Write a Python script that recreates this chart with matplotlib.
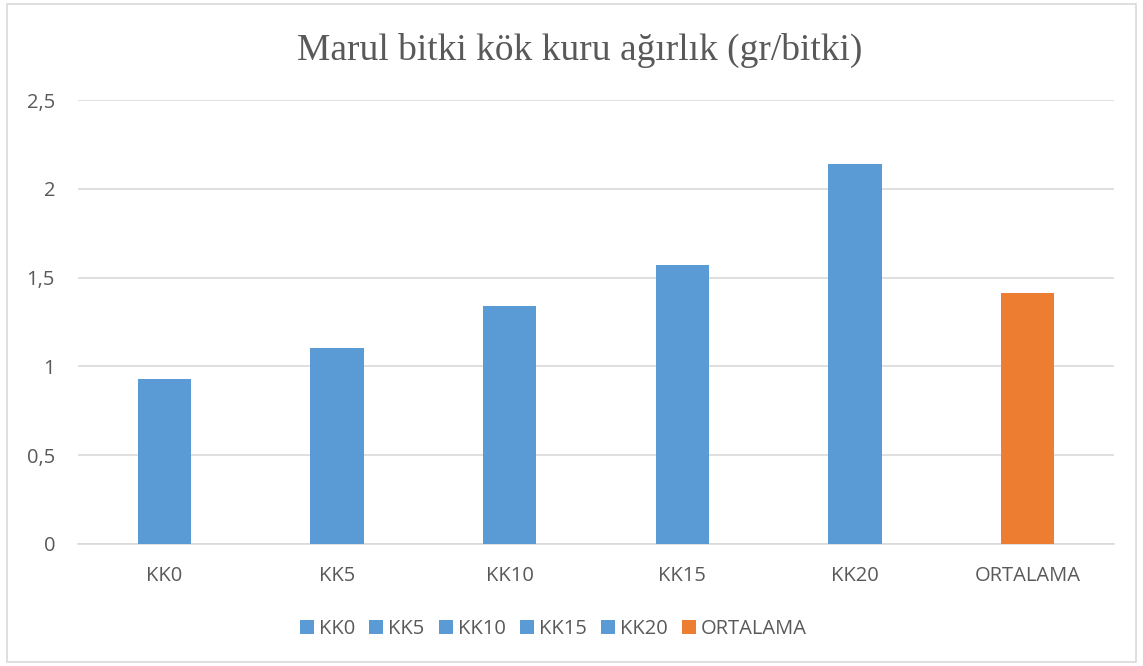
import matplotlib
matplotlib.use("Agg")
import matplotlib.pyplot as plt
from matplotlib.patches import Patch, Rectangle

# Data
categories = ["KK0", "KK5", "KK10", "KK15", "KK20", "ORTALAMA"]
values = [0.93, 1.105, 1.342, 1.573, 2.14, 1.415]
colors = ["#5B9BD5"] * 5 + ["#ED7D31"]

text_color = "#595959"
grid_color = "#D9D9D9"

fig = plt.figure(figsize=(11.43, 6.66), dpi=100)
ax = fig.add_axes([0.0682, 0.1832, 0.9064, 0.6666])

x = range(len(categories))
ax.bar(x, values, width=0.31, color=colors, zorder=3)

ax.set_xlim(-0.5, len(categories) - 0.5)
ax.set_ylim(0, 2.5)
ax.set_yticks([0, 0.5, 1, 1.5, 2, 2.5])
ax.set_yticklabels(["0", "0,5", "1", "1,5", "2", "2,5"])
ax.set_xticks(list(x))
ax.set_xticklabels(categories)

ax.grid(axis="y", color=grid_color, linewidth=1.2, zorder=0)
for s in ["top", "right", "left"]:
    ax.spines[s].set_visible(False)
ax.spines["bottom"].set_color(grid_color)
ax.spines["bottom"].set_linewidth(1.2)
ax.tick_params(axis="both", length=0, labelsize=14.5, labelcolor=text_color,
               labelfontfamily="Open Sans")
ax.tick_params(axis="x", pad=16)
ax.tick_params(axis="y", pad=16.5)

fig.text(0.507, 0.925, "Marul bitki kök kuru ağırlık (gr/bitki)", ha="center", va="center",
         fontsize=27, color=text_color, family="Liberation Serif")

handles = [Patch(facecolor=c) for c in colors]
fig.legend(handles, categories, loc="center", bbox_to_anchor=(0.484, 0.055), ncol=6,
           frameon=False, handlelength=0.7, handleheight=0.7, handletextpad=0.25,
           columnspacing=0.7, prop={"family": "Open Sans", "size": 14.5},
           labelcolor=text_color)

# outer chart border
fig.patches.append(Rectangle((0.006, 0.006), 0.988, 0.988, transform=fig.transFigure,
                             fill=False, edgecolor="#D9D9D9", linewidth=1.2))

fig.savefig("out.png", dpi=100)
